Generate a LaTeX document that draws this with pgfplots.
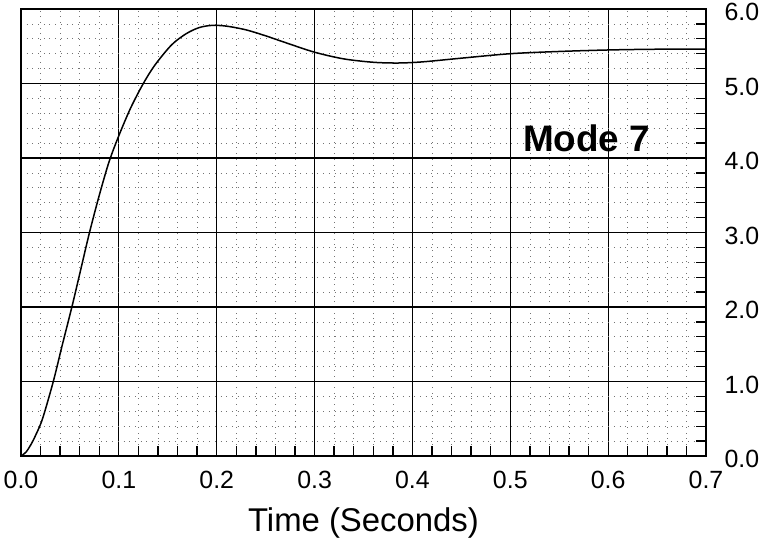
\documentclass[border=0pt]{standalone}
\usepackage{pgfplots}
\pgfplotsset{compat=1.18}
\usepackage{fontspec}
\setmainfont{Liberation Sans}
\begin{document}
\begin{tikzpicture}
\begin{axis}[
  at={(0,0)}, anchor=south west,
  scale only axis,
  width=685bp, height=447bp,
  xmin=0, xmax=0.7, ymin=0, ymax=6,
  xtick={0,0.1,...,0.7}, ytick={0,1,...,6},
  minor x tick num=4, minor y tick num=4,
  xtick pos=bottom, ytick pos=right,
  yticklabel pos=right,
  tick align=inside,
  major tick length=0pt,
  minor tick length=10bp,
  minor tick style={line width=1.3bp, black},
  grid=both,
  major grid style={line width=1.2bp, black},
  minor grid style={line width=0.7bp, black!55, dash pattern=on 0.7bp off 5bp},
  axis line style={line width=2bp},
  xticklabel={\fontsize{25}{27}\selectfont\pgfmathprintnumber[fixed,fixed zerofill,precision=1,assume math mode=true]{\tick}},
  yticklabel={\fontsize{25}{27}\selectfont\pgfmathprintnumber[fixed,fixed zerofill,precision=1,assume math mode=true]{\tick}},
  xticklabel shift=12bp,
  yticklabel shift=15bp,
  yticklabel style={yshift=-3bp},
  xlabel={Time (Seconds)},
  xlabel style={font=\fontsize{33}{36}\selectfont, yshift=-12bp},
  clip=false,
]
\addplot[black, line width=1.5bp, smooth] coordinates {
(0,0) (0.005,0.05) (0.010,0.15) (0.015,0.28) (0.022,0.5) (0.033,1.0) (0.042,1.48) (0.052,2.0)
(0.061,2.5) (0.070,3.0) (0.080,3.5) (0.090,3.95) (0.100,4.3) (0.112,4.67)
(0.125,5.0) (0.137,5.25) (0.154,5.52) (0.169,5.67) (0.182,5.75) (0.195,5.78)
(0.21,5.77) (0.23,5.72) (0.25,5.64) (0.27,5.55) (0.30,5.42) (0.33,5.33) (0.36,5.285)
(0.385,5.275) (0.41,5.29) (0.45,5.34) (0.50,5.40) (0.55,5.43) (0.60,5.45) (0.65,5.46) (0.70,5.46)
};
\node[font=\fontsize{37}{40}\selectfont\bfseries] at (axis cs:0.578,4.26) {Mode 7};
\end{axis}
\pgfresetboundingbox
\path (-21bp,-88bp) rectangle (757bp,456bp);
\end{tikzpicture}
\end{document}
